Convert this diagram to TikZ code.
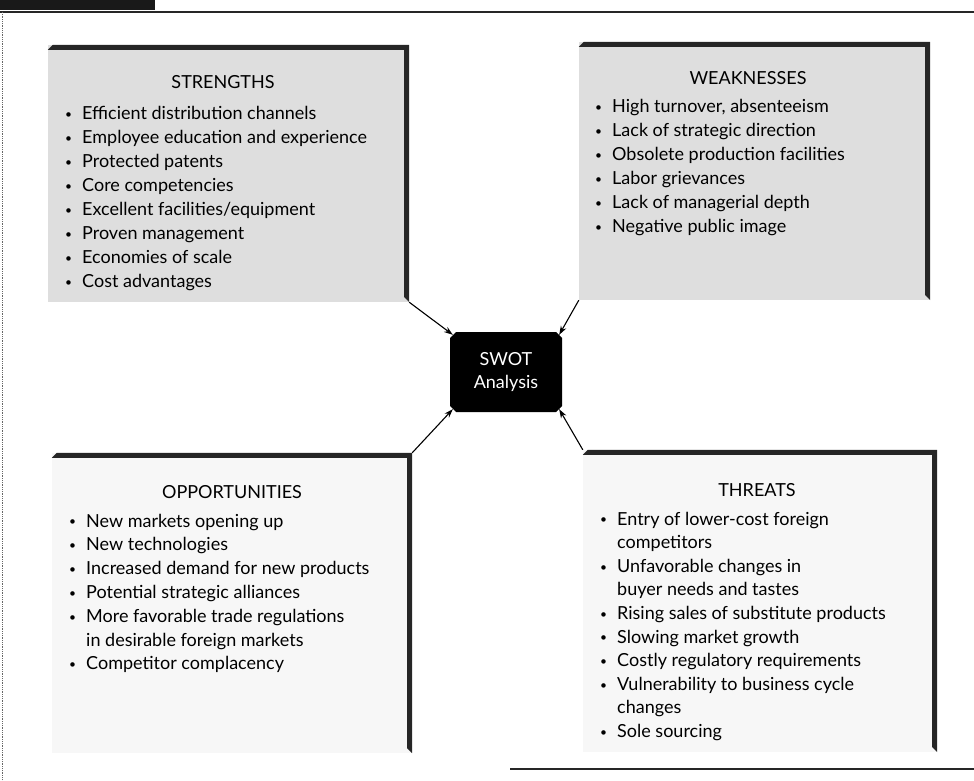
\documentclass[tikz,border=0pt]{standalone}
\usepackage{fontspec}
\setmainfont{Lato}
\usetikzlibrary{arrows.meta,calc,shapes.misc}
\newcommand\bitem{\makebox[17pt][l]{\raisebox{1.2pt}{\fontsize{12}{12}\selectfont\textbullet}}}
\newcommand\contline{\hspace*{17pt}}
\begin{document}
\begin{tikzpicture}[x=1pt,y=-1pt,
  panelA/.style={fill=black!13, inner sep=0, minimum width=#1},
  panelB/.style={fill=black!3, inner sep=0, minimum width=#1},
  rim/.style={fill=black!85},
  head/.style={font=\fontsize{18}{24}\selectfont, inner sep=0, anchor=base},
  items/.style={font=\fontsize{18}{#1}\selectfont, inner sep=0, anchor=base west},
  hub/.style={chamfered rectangle, chamfered rectangle xsep=3pt, chamfered rectangle ysep=3pt,
              fill=black, text=white, align=center, inner sep=0,
              minimum width=112pt, minimum height=80pt, font=\fontsize{18}{23}\selectfont},
  link/.style={-{Stealth[length=9pt,width=6pt]}, line width=1.1pt},
  frame/.style={line width=1.6pt, black!85}
]
\useasboundingbox (0,0) rectangle (974,781);

% page frame
\fill[black!90] (0,0) rectangle (155,10);
\draw[frame] (0,12) -- (974,12);
\draw[black!60, line width=0.8pt, densely dotted] (2,12) -- (2,781);
\draw[frame] (510,769) -- (974,769);

% four panels
\node[panelA=361pt, minimum height=257pt] (S) at (228.5,173.5) {};
\node[panelA=351pt, minimum height=258pt] (W) at (754.5,171) {};
\node[panelB=360pt, minimum height=300pt] (O) at (232,603) {};
\node[panelB=354pt, minimum height=302pt] (T) at (760,601) {};

% bevelled top and right rims
\foreach \p in {S,W,O,T}{
  \fill[rim] ($(\p.north west)+(0,5)$) -- ($(\p.north west)+(5,0)$) -- (\p.north east)
    -- (\p.south east) -- ($(\p.south east)+(-5,-5)$) -- ($(\p.north east)+(-5,5)$) -- cycle;
}

% panel headings
\node[head] (Sh) at (223,89) {STRENGTHS};
\node[head] (Wh) at (748,85) {WEAKNESSES};
\node[head] (Oh) at (232,498) {OPPORTUNITIES};
\node[head] (Th) at (757,496) {THREATS};

% panel lists
\node[items=24] (Sl) at (65,120) {\begin{tabular}[t]{@{}l@{}}
\bitem Efficient distribution channels\\
\bitem Employee education and experience\\
\bitem Protected patents\\
\bitem Core competencies\\
\bitem Excellent facilities/equipment\\
\bitem Proven management\\
\bitem Economies of scale\\
\bitem Cost advantages
\end{tabular}};

\node[items=24] (Wl) at (595,113) {\begin{tabular}[t]{@{}l@{}}
\bitem High turnover, absenteeism\\
\bitem Lack of strategic direction\\
\bitem Obsolete production facilities\\
\bitem Labor grievances\\
\bitem Lack of managerial depth\\
\bitem Negative public image
\end{tabular}};

\node[items=23.8] (Ol) at (69,527) {\begin{tabular}[t]{@{}l@{}}
\bitem New markets opening up\\
\bitem New technologies\\
\bitem Increased demand for new products\\
\bitem Potential strategic alliances\\
\bitem More favorable trade regulations\\
\contline in desirable foreign markets\\
\bitem Competitor complacency
\end{tabular}};

\node[items=23.6] (Tl) at (600,525) {\begin{tabular}[t]{@{}l@{}}
\bitem Entry of lower-cost foreign\\
\contline competitors\\
\bitem Unfavorable changes in\\
\contline buyer needs and tastes\\
\bitem Rising sales of substitute products\\
\bitem Slowing market growth\\
\bitem Costly regulatory requirements\\
\bitem Vulnerability to business cycle\\
\contline changes\\
\bitem Sole sourcing
\end{tabular}};

% centre node
\node[hub] (swot) at (506,372) {SWOT\\Analysis};

% connectors
\draw[link] (S.south east) -- (swot.north west);
\draw[link] (W.south west) -- (swot.north east);
\draw[link] (O.north east) -- (swot.south west);
\draw[link] (T.north west) -- (swot.south east);
\end{tikzpicture}
\end{document}
